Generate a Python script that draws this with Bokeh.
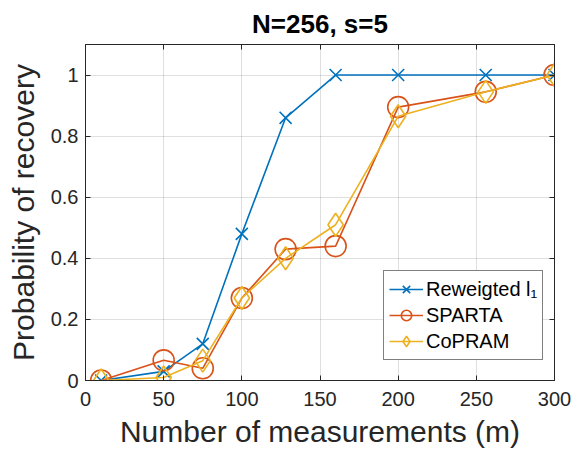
from bokeh.plotting import figure
from bokeh.models import LinearAxis, FixedTicker, CustomJSTickFormatter
from bokeh.embed import file_html
from bokeh.resources import INLINE

m_values = [10, 50, 75, 100, 128, 160, 200, 256, 300]
reweighted_l1 = [0.0, 0.03, 0.12, 0.48, 0.86, 1.0, 1.0, 1.0, 1.0]
sparta = [0.0, 0.066, 0.04, 0.27, 0.43, 0.44, 0.895, 0.945, 1.0]
copram = [0.0, 0.01, 0.065, 0.27, 0.40, 0.51, 0.865, 0.945, 1.0]
x_ticks = [0, 50, 100, 150, 200, 250, 300]
y_ticks = [0, 0.2, 0.4, 0.6, 0.8, 1.0]
y_tick_labels = ["0", "0.2", "0.4", "0.6", "0.8", "1"]

FONT = "Liberation Sans"
AX = "#262626"

p = figure(width=572, height=452, output_backend="svg", toolbar_location=None,
           x_range=(0, 300), y_range=(0, 1.1),
           min_border_left=85, min_border_right=18, min_border_top=44, min_border_bottom=72,
           title="N=256, s=5")
p.title.text_font = FONT
p.title.text_font_size = "26px"
p.title.text_font_style = "bold"
p.title.align = "center"
p.title.text_color = "#000000"
p.title.text_line_height = 0.9
p.title.standoff = 12
p.outline_line_color = AX

xt = FixedTicker(ticks=x_ticks)
yt = FixedTicker(ticks=y_ticks)
p.xaxis.ticker = xt
p.yaxis.ticker = yt
p.yaxis.major_label_overrides = {v: s for v, s in zip(y_ticks, y_tick_labels)}

for ax in (p.xaxis[0], p.yaxis[0]):
    ax.axis_line_color = AX
    ax.major_tick_line_color = AX
    ax.major_tick_in = 5
    ax.major_tick_out = 0
    ax.minor_tick_line_color = None
    ax.major_label_text_font = FONT
    ax.major_label_text_font_size = "20px"
    ax.major_label_text_color = AX
    ax.axis_label_text_font = FONT
    ax.axis_label_text_font_size = "30px"
    ax.axis_label_text_font_style = "normal"
    ax.axis_label_text_color = AX

p.xaxis.axis_label = "Number of measurements (m)"
p.yaxis.axis_label = "Probability of recovery"
p.xaxis.major_label_standoff = 11
p.xaxis.axis_label_standoff = 6
p.yaxis.major_label_standoff = 7
p.yaxis.axis_label_standoff = 8

for loc, tk in (("right", yt), ("above", xt)):
    a = LinearAxis(ticker=tk, formatter=CustomJSTickFormatter(code="return ''"))
    a.axis_line_color = AX
    a.major_tick_line_color = AX
    a.major_tick_in = 5
    a.major_tick_out = 0
    a.minor_tick_line_color = None
    a.major_label_standoff = 0
    p.add_layout(a, loc)

p.grid.grid_line_color = AX
p.grid.grid_line_alpha = 0.15

blue = "#0072BD"
red = "#D95319"
yellow = "#EDB120"

p.line(m_values, reweighted_l1, line_color=blue, line_width=1.6, legend_label="Reweigted l\u2081")
p.scatter(m_values, reweighted_l1, marker="x", size=17, line_color=blue, line_width=1.6,
          legend_label="Reweigted l\u2081")
p.line(m_values, sparta, line_color=red, line_width=1.6, legend_label="SPARTA")
p.scatter(m_values, sparta, marker="circle", size=21, line_color=red, fill_color=None,
          line_width=1.6, legend_label="SPARTA")
p.line(m_values, copram, line_color=yellow, line_width=1.6, legend_label="CoPRAM")
p.scatter(m_values, copram, marker="diamond", size=23, line_color=yellow, fill_color=None,
          line_width=1.6, legend_label="CoPRAM")

lg = p.legend[0]
lg.location = (298, 20)
lg.label_text_font = FONT
lg.label_text_font_size = "20px"
lg.label_text_color = "#000000"
lg.border_line_color = "#000000"
lg.border_line_width = 1.5
lg.background_fill_alpha = 1.0
lg.padding = 5
lg.spacing = -2
lg.margin = 0
lg.label_height = 26
lg.glyph_height = 26
lg.glyph_width = 34
lg.label_standoff = 3

open("out.html", "w").write(file_html(p, INLINE))
